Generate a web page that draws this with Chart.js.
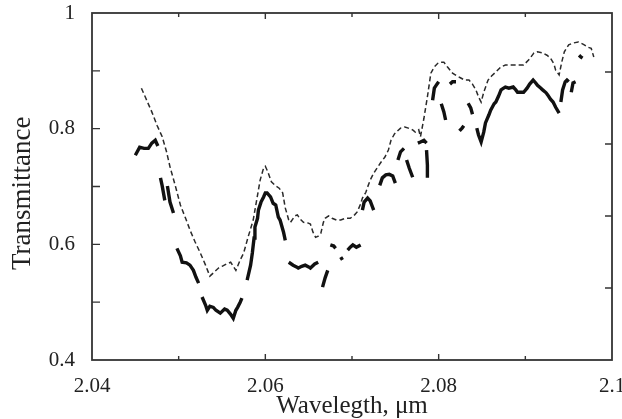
<!DOCTYPE html>
<html>
<head>
<meta charset="utf-8">
<script src="https://cdn.jsdelivr.net/npm/chart.js@4"></script>
<style>
html,body{margin:0;padding:0;background:#fff;}
canvas{display:block;}
</style>
</head>
<body>
<canvas id="c" width="622" height="419"></canvas>
<script>
// ---- data ----
const dashedX = [2.0457,2.0462,2.0469,2.0475,2.0481,2.0486,2.0490,2.0496,2.0502,2.0508,
2.0513,2.0519,2.0525,2.0531,2.0536,2.0541,2.0546,2.0550,2.0555,2.0560,
2.0563,2.0566,2.0571,2.0575,2.0580,2.0586,2.0591,2.0594,2.0598,2.0600,
2.0603,2.0607,2.0612,2.0616,2.0620,2.0623,2.0627,2.0629,2.0634,2.0637,
2.0640,2.0644,2.0649,2.0652,2.0655,2.0658,2.0661,2.0664,2.0667,2.0669,
2.0673,2.0677,2.0682,2.0687,2.0692,2.0698,2.0703,2.0706,2.0710,2.0712,
2.0716,2.0718,2.0721,2.0725,2.0729,2.0733,2.0738,2.0742,2.0745,2.0749,
2.0756,2.0761,2.0765,2.0770,2.0773,2.0777,2.0779,2.0783,2.0787,2.0791,
2.0795,2.0799,2.0802,2.0806,2.0810,2.0816,2.0821,2.0825,2.0830,2.0835,
2.0839,2.0843,2.0846,2.0849,2.0852,2.0857,2.0861,2.0866,2.0872,2.0877,
2.0883,2.0887,2.0892,2.0898,2.0904,2.0910,2.0914,2.0920,2.0925,2.0929,
2.0933,2.0935,2.0939,2.0942,2.0945,2.0950,2.0955,2.0961,2.0964,2.0968,
2.0972,2.0976,2.0979];
const dashedY = [0.870,0.853,0.829,0.806,0.786,0.760,0.734,0.702,0.668,0.645,
0.625,0.604,0.585,0.564,0.545,0.552,0.559,0.562,0.566,0.569,
0.562,0.555,0.573,0.585,0.612,0.642,0.685,0.711,0.732,0.735,
0.725,0.708,0.701,0.697,0.689,0.663,0.642,0.638,0.649,0.651,
0.644,0.638,0.637,0.635,0.621,0.612,0.614,0.619,0.638,0.645,
0.649,0.645,0.642,0.642,0.645,0.645,0.651,0.656,0.670,0.680,
0.690,0.699,0.711,0.723,0.732,0.741,0.751,0.763,0.780,0.791,
0.801,0.803,0.801,0.798,0.794,0.798,0.786,0.818,0.855,0.896,
0.907,0.913,0.915,0.915,0.907,0.896,0.891,0.888,0.884,0.884,
0.877,0.867,0.855,0.846,0.863,0.884,0.891,0.898,0.907,0.910,
0.910,0.910,0.910,0.910,0.919,0.931,0.933,0.931,0.927,0.922,
0.912,0.901,0.893,0.915,0.933,0.945,0.948,0.950,0.948,0.945,
0.941,0.939,0.924];

// solid curve: fragments separated by null (gaps in the record)
const solidX = [2.0450,2.0455,2.0460,2.0465,2.0469,2.0473,2.0476,null,
2.0479,2.0481,2.0484,null,
2.0487,2.0490,2.0494,null,
2.0498,2.0502,2.0504,2.0509,2.0513,2.0517,2.0520,2.0523,null,
2.0527,2.0531,2.0533,2.0536,2.0540,2.0543,2.0548,2.0553,2.0556,2.0560,2.0563,2.0566,2.0568,2.0571,2.0573,null,
2.0579,2.0583,2.0585,2.0587,2.0588,2.0591,2.0592,2.0595,2.0598,2.0600,2.0602,2.0606,2.0609,2.0612,2.0615,2.0617,2.0621,2.0623,null,
2.0627,2.0630,2.0632,2.0636,2.0638,2.0642,2.0646,2.0650,2.0652,2.0657,2.0661,null,
2.0666,2.0669,2.0672,null,
2.0675,2.0679,2.0681,null,
2.0687,2.0689,null,
2.0695,2.0698,2.0701,2.0705,2.0710,null,
2.0712,2.0714,2.0718,2.0721,2.0725,null,
2.0732,2.0735,2.0739,2.0743,2.0747,2.0750,null,
2.0753,2.0756,2.0760,null,
2.0763,2.0766,2.0770,null,
2.0776,2.0779,2.0783,2.0786,null,
2.0786,2.0787,2.0787,null,
2.0793,2.0795,2.0798,2.0800,null,
2.0803,2.0806,2.0808,null,
2.0813,2.0816,2.0820,null,
2.0824,2.0827,2.0829,null,
2.0834,2.0837,2.0839,null,
2.0844,2.0846,2.0849,2.0852,2.0854,2.0858,2.0860,2.0864,2.0866,2.0869,2.0872,2.0875,2.0877,2.0881,2.0886,2.0889,
2.0891,2.0895,2.0898,2.0902,2.0905,2.0909,2.0912,2.0914,2.0918,2.0920,2.0924,2.0926,2.0929,2.0932,2.0935,2.0939,null,
2.0941,2.0943,2.0946,2.0948,2.0950,null,
2.0953,2.0955,2.0958,null,
2.0962,2.0964,2.0966];
const solidY = [0.754,0.768,0.766,0.766,0.775,0.780,0.770,null,
0.715,0.701,0.676,null,
0.701,0.673,0.654,null,
0.593,0.580,0.569,0.568,0.564,0.555,0.543,0.533,null,
0.509,0.495,0.486,0.493,0.491,0.486,0.481,0.488,0.486,0.479,0.472,0.486,0.491,0.500,0.507,null,
0.538,0.564,0.585,0.611,0.630,0.645,0.659,0.673,0.682,0.689,0.689,0.682,0.671,0.668,0.647,0.642,0.621,0.607,null,
0.569,0.566,0.564,0.561,0.559,0.562,0.564,0.561,0.559,0.566,0.569,null,
0.526,0.542,0.555,null,
0.599,0.597,0.593,null,
0.578,0.573,null,
0.590,0.595,0.599,0.595,0.599,null,
0.659,0.673,0.680,0.675,0.659,null,
0.702,0.715,0.720,0.721,0.718,0.706,null,
0.746,0.760,0.766,null,
0.746,0.732,0.716,null,
0.775,0.777,0.780,0.775,null,
0.763,0.737,0.715,null,
0.849,0.870,0.877,0.881,null,
0.843,0.829,0.815,null,
0.877,0.881,0.881,null,
0.796,0.801,0.805,null,
0.844,0.836,0.825,null,
0.801,0.789,0.777,0.794,0.810,0.824,0.832,0.843,0.846,0.856,0.867,0.870,0.872,0.870,0.872,0.867,
0.863,0.863,0.863,0.870,0.877,0.884,0.879,0.875,0.870,0.867,0.862,0.858,0.851,0.846,0.837,0.827,null,
0.846,0.867,0.881,0.884,0.881,null,
0.863,0.879,0.881,null,
0.927,0.924,0.922];

const xTicks = {min: 2.04, max: 2.1, step: 0.01};
const yTicks = {min: 0.4, max: 1.0, step: 0.1};
const xTitle = 'Wavelegth, \u03bcm';
const yTitle = 'Transmittance  ';

// ---- build datasets ----
const dashedData = dashedX.map((x, i) => ({x: x, y: dashedY[i]}));
let lastX = solidX[0];
const solidData = solidX.map((x, i) => {
  if (x === null) return {x: lastX, y: null};
  lastX = x;
  return {x: x, y: solidY[i]};
});

const FONT = '"Liberation Serif", "Times New Roman", serif';
const INK = '#222';

const frameTicks = {
  id: 'frameTicks',
  afterDraw(chart) {
    const ctx = chart.ctx;
    const a = chart.chartArea;
    const xs = chart.scales.x, ys = chart.scales.y, yr = chart.scales.y2;
    ctx.save();
    ctx.strokeStyle = '#333';
    ctx.lineWidth = 1.8;
    ctx.strokeRect(a.left, a.top, a.right - a.left, a.bottom - a.top);
    ctx.lineWidth = 1.4;
    ctx.beginPath();
    xs.ticks.forEach(t => {
      const px = xs.getPixelForValue(t.value);
      const major = Math.round(t.value * 100) % 2 === 0;
      const len = major ? 6 : 4;
      if (px <= a.left + 1 || px >= a.right - 1) return;
      ctx.moveTo(px, a.bottom); ctx.lineTo(px, a.bottom - len);
      ctx.moveTo(px, a.top); ctx.lineTo(px, a.top + len);
    });
    ys.ticks.forEach(t => {
      const py = ys.getPixelForValue(t.value);
      if (py <= a.top + 1 || py >= a.bottom - 1) return;
      ctx.moveTo(a.left, py); ctx.lineTo(a.left + 8, py);
    });
    yr.ticks.forEach(t => {
      const py = yr.getPixelForValue(t.value);
      if (py <= a.top + 1 || py >= a.bottom - 1) return;
      ctx.moveTo(a.right, py); ctx.lineTo(a.right - 7, py);
    });
    ctx.stroke();
    ctx.restore();
  }
};

new Chart(document.getElementById('c'), {
  type: 'line',
  data: {
    datasets: [
      {
        label: 'dashed',
        data: dashedData,
        borderColor: '#2a2a2a',
        borderWidth: 1.5,
        borderDash: [5, 3],
        pointRadius: 0,
        tension: 0,
        fill: false
      },
      {
        label: 'solid',
        data: solidData,
        borderColor: '#111',
        borderWidth: 3.4,
        pointRadius: 0,
        tension: 0,
        spanGaps: false,
        fill: false
      }
    ]
  },
  options: {
    responsive: false,
    animation: false,
    devicePixelRatio: 1,
    layout: {padding: {top: 13, right: 10, left: 0, bottom: 0}},
    plugins: {legend: {display: false}, tooltip: {enabled: false}},
    scales: {
      x: {
        type: 'linear',
        min: xTicks.min, max: xTicks.max,
        grid: {display: false},
        border: {display: false},
        ticks: {
          stepSize: xTicks.step,
          autoSkip: false,
          maxRotation: 0,
          padding: 6,
          color: INK,
          font: {family: FONT, size: 21},
          callback: v => (Math.round(v * 100) % 2 === 0) ? String(parseFloat(v.toFixed(2))) : ''
        },
        title: {
          display: true, text: xTitle, color: INK,
          font: {family: FONT, size: 25, lineHeight: 1},
          padding: {top: 0, bottom: 0}
        },
        afterFit: s => { s.height = 59; s.paddingLeft = 0; s.paddingRight = 0; }
      },
      y: {
        type: 'linear',
        min: yTicks.min, max: yTicks.max,
        grid: {display: false},
        border: {display: false},
        ticks: {
          stepSize: yTicks.step,
          autoSkip: false,
          padding: 9,
          color: INK,
          font: {family: FONT, size: 21},
          callback: v => (Math.round(v * 10) % 2 === 0) ? String(parseFloat(v.toFixed(1))) : ''
        },
        title: {
          display: true, text: yTitle, color: INK,
          font: {family: FONT, size: 27, lineHeight: 1},
          padding: {top: 9, bottom: 0}
        },
        afterFit: s => { s.width = 92; s.paddingTop = 0; s.paddingBottom = 0; }
      },
      y2: {
        type: 'linear',
        position: 'right',
        display: false,
        min: 0, max: 4.82,
        ticks: {stepSize: 1}
      }
    }
  },
  plugins: [frameTicks]
});
</script>
</body>
</html>
